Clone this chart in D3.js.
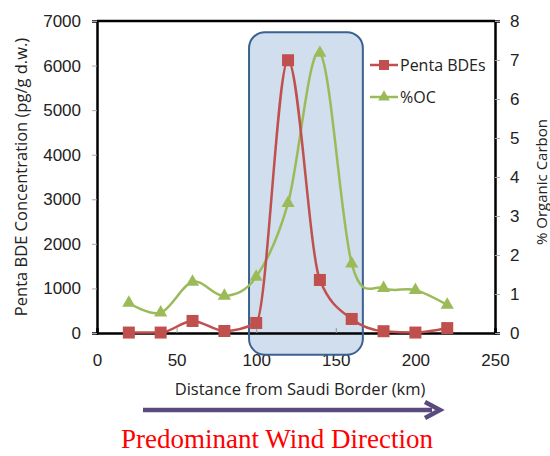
<!DOCTYPE html>
<html>
<head>
<meta charset="utf-8">
<script src="https://cdn.jsdelivr.net/npm/d3@7"></script>
<style>
  body { margin: 0; background: #fff; }
  svg { display: block; font-family: 'Open Sans', 'Noto Sans', sans-serif; }
</style>
</head>
<body>
<svg id="chart" width="550" height="456"></svg>
<script>
const distances = [20, 40, 60, 80, 100, 120, 140, 160, 180, 200, 220]
const pentaBDEs = [10, 10, 270, 45, 225, 6120, 1190, 315, 40, 10, 110]
const organicCarbon = [0.77, 0.52, 1.31, 0.95, 1.44, 3.33, 7.18, 1.78, 1.15, 1.1, 0.72]
const xTicks = [0, 50, 100, 150, 200, 250]
const yLeftTicks = [0, 1000, 2000, 3000, 4000, 5000, 6000, 7000]
const yRightTicks = [0, 1, 2, 3, 4, 5, 6, 7, 8]
// highlighted zone, in data units (km, pg/g)
const zone = { x0: 95.5, x1: 167, y0: -490, y1: 6750 }

const svg = d3.select('#chart')
const margin = { top: 21, right: 55, bottom: 123, left: 97 }
const width = 550, height = 456

const x = d3.scaleLinear().domain([0, 250]).range([margin.left, width - margin.right])
const yL = d3.scaleLinear().domain([0, 7000]).range([height - margin.bottom, margin.top])
const yR = d3.scaleLinear().domain([0, 8]).range([height - margin.bottom, margin.top])

const red = '#c0504d', green = '#9bbb59'

// highlighted zone
svg.append('rect')
    .attr('x', x(zone.x0)).attr('y', yL(zone.y1))
    .attr('width', x(zone.x1) - x(zone.x0))
    .attr('height', yL(zone.y0) - yL(zone.y1))
    .attr('rx', 16).attr('ry', 16)
    .attr('fill', '#c9d8ea')
    .attr('fill-opacity', 0.85)

// axes
const tickFont = g => g.selectAll('text').attr('fill', '#222').style('font-size', '17px')

svg.append('g')
    .attr('transform', `translate(0,${yL(0)})`)
    .call(d3.axisBottom(x).tickValues(xTicks).tickSize(-5).tickPadding(21))
    .call(g => g.select('.domain').attr('stroke', '#000').attr('stroke-width', 2.5))
    .call(g => g.selectAll('.tick line').attr('stroke', '#999'))
    .call(tickFont)

svg.append('g')
    .attr('transform', `translate(${margin.left},0)`)
    .call(d3.axisLeft(yL).tickValues(yLeftTicks).tickFormat(d3.format('d')).tickSize(5).tickPadding(11))
    .call(g => g.select('.domain').attr('stroke', '#000').attr('stroke-width', 2.5))
    .call(g => g.selectAll('.tick line').attr('stroke', '#aaa'))
    .call(tickFont)

svg.append('g')
    .attr('transform', `translate(${width - margin.right},0)`)
    .call(d3.axisRight(yR).tickValues(yRightTicks).tickSize(5).tickPadding(10))
    .call(g => g.select('.domain').attr('stroke', '#000').attr('stroke-width', 2.5))
    .call(g => g.selectAll('.tick line').attr('stroke', '#aaa'))
    .call(tickFont)

svg.append('line')
    .attr('x1', margin.left).attr('x2', width - margin.right)
    .attr('y1', margin.top).attr('y2', margin.top)
    .attr('stroke', '#000').attr('stroke-width', 2.5)

// zone border on top of axes
svg.append('rect')
    .attr('x', x(zone.x0)).attr('y', yL(zone.y1))
    .attr('width', x(zone.x1) - x(zone.x0))
    .attr('height', yL(zone.y0) - yL(zone.y1))
    .attr('rx', 16).attr('ry', 16)
    .attr('fill', 'none')
    .attr('stroke', '#3b6190').attr('stroke-width', 2)

// lines
const lineL = d3.line().x((d, i) => x(distances[i])).y(d => yL(d)).curve(d3.curveMonotoneX)
const lineR = d3.line().x((d, i) => x(distances[i])).y(d => yR(d)).curve(d3.curveCardinal.tension(0))

svg.append('path').datum(organicCarbon)
    .attr('d', lineR).attr('fill', 'none').attr('stroke', green).attr('stroke-width', 2.5)
svg.append('path').datum(pentaBDEs)
    .attr('d', lineL).attr('fill', 'none').attr('stroke', red).attr('stroke-width', 2.5)

const tri = d3.symbol().type(d3.symbolTriangle).size(75)
svg.selectAll('.oc').data(organicCarbon).join('path')
    .attr('transform', (d, i) => `translate(${x(distances[i])},${yR(d)})`)
    .attr('d', tri).attr('fill', green)

svg.selectAll('.bde').data(pentaBDEs).join('rect')
    .attr('x', (d, i) => x(distances[i]) - 6).attr('y', d => yL(d) - 6)
    .attr('width', 12).attr('height', 12).attr('fill', red)

// legend
const legend = svg.append('g').attr('transform', 'translate(370,65)')
legend.append('line').attr('x1', 0).attr('x2', 28).attr('stroke', red).attr('stroke-width', 2.5)
legend.append('rect').attr('x', 9).attr('y', -5).attr('width', 10).attr('height', 10).attr('fill', red)
legend.append('text').attr('x', 30).attr('y', 6).text('Penta BDEs').style('font-size', '16px').attr('fill', '#222')
const leg2 = svg.append('g').attr('transform', 'translate(370,97)')
leg2.append('line').attr('x1', 0).attr('x2', 28).attr('stroke', green).attr('stroke-width', 2.5)
leg2.append('path').attr('transform', 'translate(14,0)').attr('d', d3.symbol().type(d3.symbolTriangle).size(60)).attr('fill', green)
leg2.append('text').attr('x', 30).attr('y', 6).text('%OC').style('font-size', '16px').attr('fill', '#222')

// axis titles
svg.append('text')
    .attr('transform', `translate(27,${(yL(0) + yL(7000)) / 2}) rotate(-90)`)
    .attr('text-anchor', 'middle').style('font-size', '16.5px').attr('fill', '#222')
    .text('Penta BDE Concentration (pg/g d.w.)')

svg.append('text')
    .attr('transform', `translate(547,182) rotate(-90)`)
    .attr('text-anchor', 'middle').style('font-size', '15px').attr('fill', '#222')
    .text('% Organic Carbon')

svg.append('text')
    .attr('x', 300).attr('y', 395)
    .attr('text-anchor', 'middle').style('font-size', '16.5px').attr('fill', '#222')
    .text('Distance from Saudi Border (km)')

// wind arrow
svg.append('line')
    .attr('x1', 143).attr('x2', 432).attr('y1', 410).attr('y2', 410)
    .attr('stroke', '#5b4a7e').attr('stroke-width', 4.5)
svg.append('path')
    .attr('d', 'M425,402 L440,410 L425,418')
    .attr('fill', 'none').attr('stroke', '#5b4a7e').attr('stroke-width', 4.5)

svg.append('text')
    .attr('x', 277).attr('y', 448)
    .attr('text-anchor', 'middle')
    .style('font-family', "'Liberation Serif', 'DejaVu Serif', serif")
    .style('font-size', '27px').attr('fill', '#f00')
    .text('Predominant Wind Direction')
</script>
</body>
</html>
